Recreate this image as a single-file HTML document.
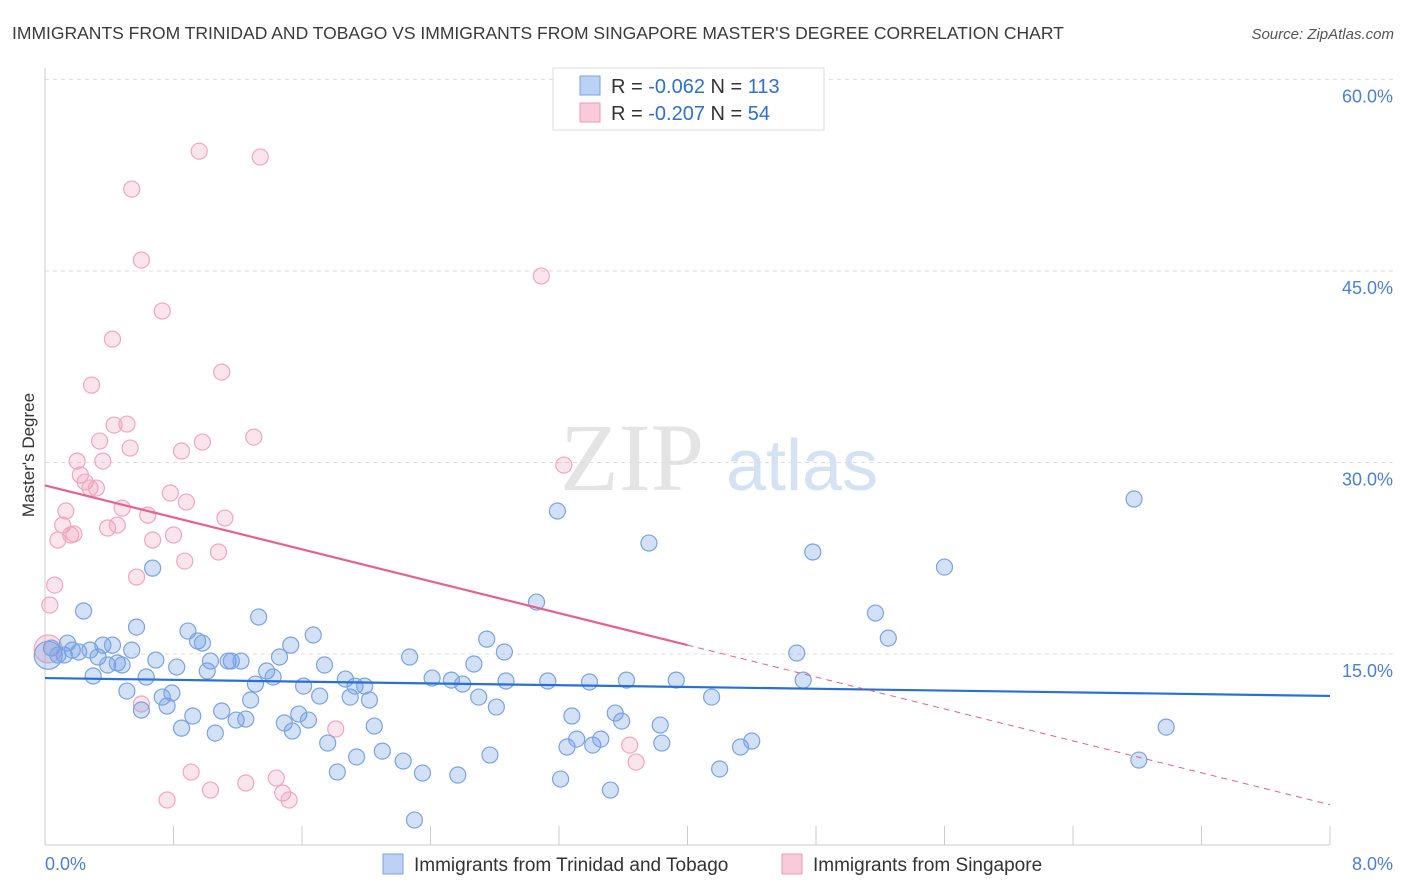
<!DOCTYPE html>
<html><head><meta charset="utf-8"><style>
body{margin:0;background:#fff;font-family:"Liberation Sans",sans-serif;}
svg{display:block}
</style></head><body>
<svg id="chart" width="1406" height="892" xmlns="http://www.w3.org/2000/svg" font-family="Liberation Sans, sans-serif">
<text x="12" y="39" font-size="17.5" fill="#3a3a3a">IMMIGRANTS FROM TRINIDAD AND TOBAGO VS IMMIGRANTS FROM SINGAPORE MASTER'S DEGREE CORRELATION CHART</text>
<text x="1394" y="39" font-size="15" fill="#555" text-anchor="end" font-style="italic">Source: ZipAtlas.com</text>
<g>
<text x="632" y="490" font-size="96" fill="#e4e4e4" text-anchor="middle" font-family="Liberation Serif, serif">ZIP</text>
<text x="802" y="490" font-size="72" fill="#d4e2f4" text-anchor="middle">atlas</text>
</g>
<g id="grid"></g>
<g id="axes"></g>
<g id="points"></g>
<g id="trends"></g>
<text transform="translate(34,455) rotate(-90)" font-size="17" fill="#333" text-anchor="middle">Master's Degree</text>
<text x="45" y="870" font-size="18" fill="#4a7fd6">0.0%</text>
<text x="1393" y="870" font-size="18" fill="#4a7fd6" text-anchor="end">8.0%</text>
<g>
<rect x="553" y="68" width="271" height="62" fill="#fff" stroke="#ddd"/>
<rect x="580" y="76" width="20" height="19" fill="#bcd2f4" stroke="#7aa3e3"/>
<rect x="580" y="103" width="20" height="19" fill="#f9cbda" stroke="#f09ab8"/>
<text x="611" y="93" font-size="20" fill="#333">R = <tspan fill="#2f6fd3">-0.062</tspan>   N = <tspan fill="#2f6fd3">113</tspan></text>
<text x="611" y="120" font-size="20" fill="#333">R = <tspan fill="#2f6fd3">-0.207</tspan>   N = <tspan fill="#2f6fd3"> 54</tspan></text>
</g>
<g>
<rect x="383" y="854" width="20" height="20" fill="#bcd2f4" stroke="#7aa3e3"/>
<text x="414" y="871" font-size="19" fill="#333">Immigrants from Trinidad and Tobago</text>
<rect x="782" y="854" width="20" height="20" fill="#f9cbda" stroke="#f09ab8"/>
<text x="813" y="871" font-size="19" fill="#333">Immigrants from Singapore</text>
</g>
</svg>
<script>
const yTicks=[15,30,45,60];
const yTickLabels=["15.0%","30.0%","45.0%","60.0%"];
const xTicks=[0,0.8,1.6,2.4,3.2,4.0,4.8,5.6,6.4,7.2,8.0];
const blueX=[0.04,0.08,0.12,0.14,0.17,0.21,0.24,0.28,0.30,0.33,0.36,0.39,0.42,0.45,0.48,0.51,0.54,0.57,0.60,0.63,0.67,0.69,0.73,0.76,0.79,0.82,0.85,0.89,0.92,0.95,0.98,1.01,1.03,1.06,1.10,1.14,1.16,1.19,1.22,1.25,1.28,1.31,1.33,1.38,1.42,1.46,1.49,1.53,1.54,1.58,1.61,1.64,1.67,1.71,1.74,1.76,1.82,1.87,1.90,1.93,1.94,1.99,2.02,2.05,2.10,2.23,2.27,2.30,2.35,2.41,2.53,2.57,2.60,2.67,2.70,2.75,2.77,2.81,2.86,2.87,3.06,3.13,3.19,3.21,3.25,3.28,3.31,3.39,3.41,3.46,3.52,3.55,3.59,3.62,3.76,3.83,3.84,3.93,4.15,4.20,4.33,4.40,4.68,4.72,4.78,5.17,5.25,5.60,6.78,6.81,6.98];
const blueY=[15.47,14.92,14.92,15.86,15.31,15.16,18.37,15.31,13.28,14.77,15.70,14.14,15.70,14.30,14.14,12.10,15.31,17.11,10.62,13.20,21.73,14.53,11.63,10.93,11.95,13.98,9.20,16.80,10.15,16.02,15.86,13.67,14.45,8.81,10.54,14.45,14.45,9.83,14.45,9.91,11.40,12.65,17.90,13.67,13.20,14.77,9.60,15.70,8.97,10.30,12.49,9.83,16.49,11.71,14.14,8.03,5.76,13.04,11.63,12.49,6.94,12.49,11.40,9.36,7.40,6.62,14.77,2.00,5.68,13.12,12.96,5.53,12.65,14.22,11.63,16.17,7.09,10.85,15.16,12.89,19.07,12.89,26.20,5.21,7.72,10.15,8.34,12.81,7.87,8.34,4.35,10.38,9.75,12.96,23.69,9.44,8.03,12.96,11.63,6.00,7.72,8.19,15.08,12.96,22.99,18.21,16.25,21.81,27.14,6.70,9.28];
const pinkX=[0.03,0.06,0.08,0.11,0.13,0.16,0.18,0.20,0.22,0.25,0.28,0.32,0.29,0.34,0.36,0.39,0.42,0.43,0.45,0.48,0.51,0.53,0.54,0.57,0.60,0.60,0.64,0.67,0.73,0.76,0.78,0.80,0.85,0.87,0.88,0.91,0.96,0.98,1.03,1.08,1.10,1.12,1.25,1.30,1.34,1.44,1.48,1.52,1.81,3.09,3.23,3.64,3.68];
const pinkY=[18.84,20.40,23.93,25.10,26.20,24.32,24.40,30.11,29.02,28.47,28.00,28.00,36.06,31.68,30.11,24.87,39.66,32.93,25.10,26.43,33.01,31.13,51.41,21.03,45.85,11.09,25.88,23.93,41.86,3.57,27.61,24.32,30.90,22.28,26.90,5.76,54.38,31.60,4.35,22.99,37.08,25.65,4.90,31.99,53.92,5.29,4.12,3.57,9.13,44.60,29.80,7.87,6.54];
const bigBlue=[0.02,14.9];
const bigPink=[0.02,15.4];
const blueTrend=[13.12,11.72];
const pinkTrend=[28.2,3.2];
const pinkSolidEnd=4.0;
const X0=45,X1=1330,Y0=845.6,PPV=12.77;
function xs(v){return X0+(X1-X0)*v/8;}
function ys(v){return Y0-v*PPV;}
const NS="http://www.w3.org/2000/svg";
function mk(tag,parent,attrs){const e=document.createElementNS(NS,tag);for(const k in attrs)e.setAttribute(k,attrs[k]);parent.appendChild(e);return e;}
const grid=document.getElementById('grid'),axes=document.getElementById('axes'),pts=document.getElementById('points'),tr=document.getElementById('trends');
yTicks.forEach((t,i)=>{
 const l=mk('line',grid,{x1:45,x2:1394,y1:ys(t),y2:ys(t),stroke:'#ddd','stroke-dasharray':'4,4'});
 
 
 const tx=mk('text',grid,{x:1393,y:ys(t)+23,'font-size':18,fill:'#4a7fd6','text-anchor':'end'});
 tx.textContent=yTickLabels[i];
 
 
});
const yl=mk('line',axes,{x1:45,x2:45,y1:68,y2:845,stroke:'#ccc'});


const xl=mk('line',axes,{x1:45,x2:1330,y1:845,y2:845,stroke:'#ccc'});


xTicks.forEach(t=>{
 const l=mk('line',axes,{x1:xs(t),x2:xs(t),y1:826,y2:845,stroke:'#ccc'});
 
 
});
function dot(x,y,r,fill,stroke,name){
 const c=mk('circle',pts,{cx:xs(x),cy:ys(y),r:r,fill:fill,stroke:stroke,'stroke-width':1.2});
 
 
}
dot(bigPink[0],bigPink[1],14,'rgba(240,150,180,0.3)','#f2a5c0','singapore-point');
dot(bigBlue[0],bigBlue[1],14,'rgba(110,155,230,0.3)','#7aa3e3','trinidad-point');
pinkX.forEach((x,i)=>dot(x,pinkY[i],8,'rgba(240,150,180,0.25)','#f2a5c0','singapore-point'));
blueX.forEach((x,i)=>dot(x,blueY[i],8,'rgba(110,155,230,0.3)','#7aa3e3','trinidad-point'));
const bt=mk('line',tr,{x1:xs(0),y1:ys(blueTrend[0]),x2:xs(8),y2:ys(blueTrend[1]),stroke:'#2970d6','stroke-width':2.2});


const pm=pinkTrend[0]+(pinkTrend[1]-pinkTrend[0])*pinkSolidEnd/8;
const ps=mk('line',tr,{x1:xs(0),y1:ys(pinkTrend[0]),x2:xs(pinkSolidEnd),y2:ys(pm),stroke:'#e8608e','stroke-width':2.2});


const pd=mk('line',tr,{x1:xs(pinkSolidEnd),y1:ys(pm),x2:xs(8),y2:ys(pinkTrend[1]),stroke:'#e8608e','stroke-width':1,'stroke-dasharray':'6,5'});


</script>
</body></html>
